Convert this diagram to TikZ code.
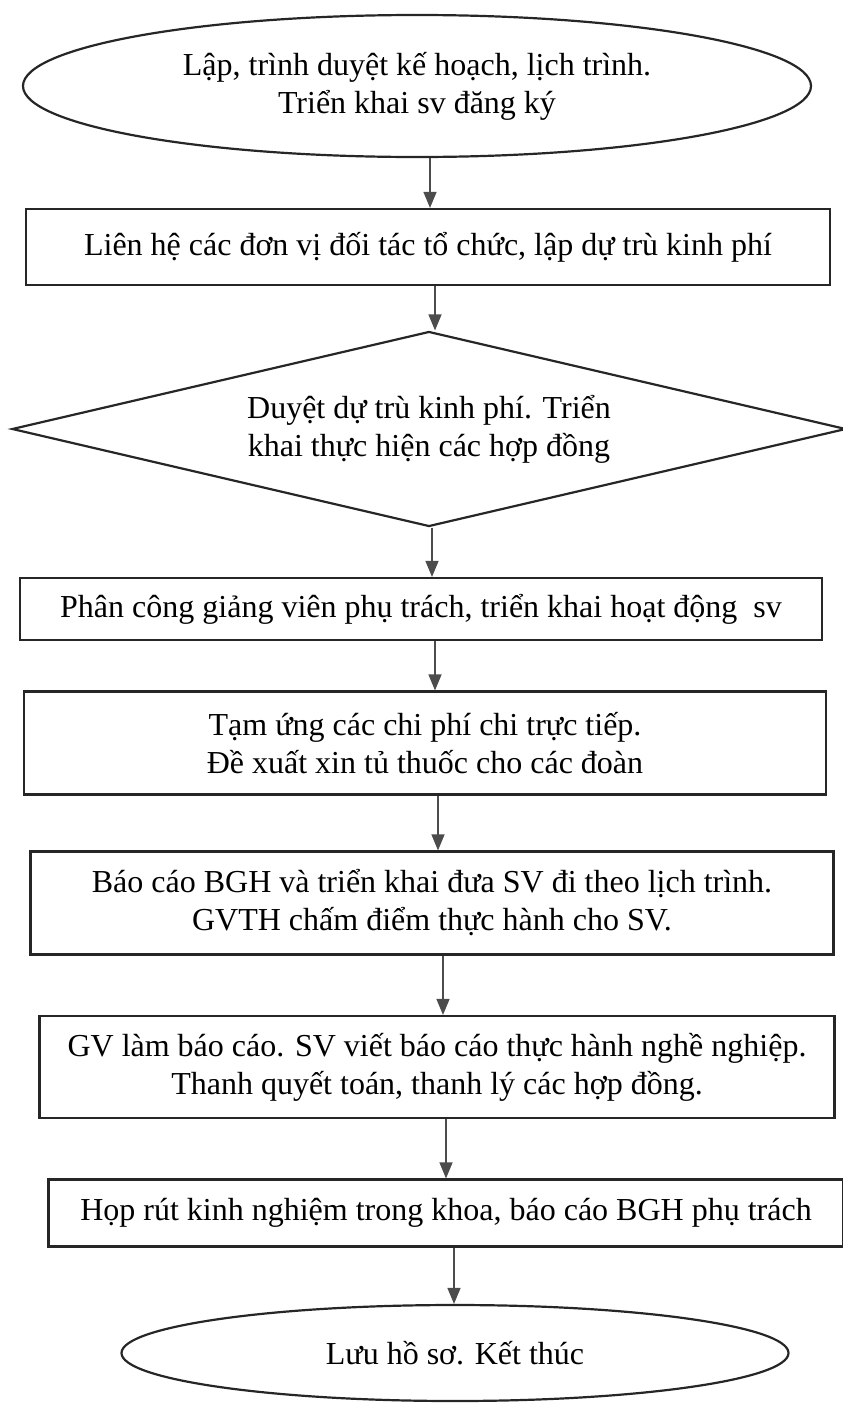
\documentclass[tikz,border=0pt]{standalone}
\usepackage{fontspec}
\setmainfont{Liberation Serif}
\usepackage{xcolor}
\usepackage{tikz}
\usetikzlibrary{arrows.meta,shapes.geometric}

\begin{document}
\begin{tikzpicture}[x=0.5pt,y=-0.5pt,
  font=\fontsize{16}{19}\selectfont,
  box/.style={draw=black!85,line width=1.1pt,rectangle,inner sep=0pt,align=center},
  oval/.style={draw=black!85,line width=1.1pt,ellipse,inner sep=0pt,align=center},
  rhombus/.style={draw=black!85,line width=1.1pt,diamond,aspect=4.3,inner sep=0pt,align=center},
  arr/.style={draw=black!70,line width=0.7pt,-{Triangle[length=8pt,width=6.5pt]}}]

\useasboundingbox (0,0) rectangle (842,1403);

\node[oval,minimum width=394pt,minimum height=71pt] (E1) at (417,86) {Lập, trình duyệt kế hoạch, lịch trình.\\Triển khai sv đăng ký};

\node[box,minimum width=402pt,minimum height=38pt] (B1) at (428,247) {Liên hệ các đơn vị đối tác tổ chức, lập dự trù kinh phí};

\node[rhombus,minimum width=417pt,minimum height=97.5pt] (D1) at (429,429) {Duyệt dự trù kinh phí. Triển\\khai thực hiện các hợp đồng};

\node[box,minimum width=401pt,minimum height=31pt] (B2) at (421,609) {Phân công giảng viên phụ trách, triển khai hoạt động~ sv};

\node[box,minimum width=401pt,minimum height=51.5pt] (B3) at (425,743) {Tạm ứng các chi phí chi trực tiếp.\\Đề xuất xin tủ thuốc cho các đoàn};

\node[box,minimum width=401.5pt,minimum height=51.5pt] (B4) at (432,903) {Báo cáo BGH và triển khai đưa SV đi theo lịch trình.\\GVTH chấm điểm thực hành cho SV.};

\node[box,minimum width=397.5pt,minimum height=51pt] (B5) at (437,1067) {GV làm báo cáo. SV viết báo cáo thực hành nghề nghiệp.\\Thanh quyết toán, thanh lý các hợp đồng.};

\node[box,minimum width=397.5pt,minimum height=33.5pt] (B6) at (446,1213) {Họp rút kinh nghiệm trong khoa, báo cáo BGH phụ trách};

\node[oval,minimum width=333.5pt,minimum height=48pt] (E2) at (455,1353) {Lưu hồ sơ. Kết thúc};

%%%%%%%%%%%%%%%
\draw[arr] ([xshift=6.5pt]E1.south) -- ([xshift=6.5pt]E1.south |- B1.north);
\draw[arr] ([xshift=3.5pt]B1.south) -- ([xshift=3.5pt]B1.south |- D1.north);
\draw[arr] ([xshift=1.5pt]D1.south) -- ([xshift=1.5pt]D1.south |- B2.north);
\draw[arr] ([xshift=7pt]B2.south) -- ([xshift=7pt]B2.south |- B3.north);
\draw[arr] ([xshift=6.5pt]B3.south) -- ([xshift=6.5pt]B3.south |- B4.north);
\draw[arr] ([xshift=5.5pt]B4.south) -- ([xshift=5.5pt]B4.south |- B5.north);
\draw[arr] ([xshift=4.5pt]B5.south) -- ([xshift=4.5pt]B5.south |- B6.north);
\draw[arr] ([xshift=4pt]B6.south) -- ([xshift=4pt]B6.south |- E2.north);

\end{tikzpicture}
\end{document}
